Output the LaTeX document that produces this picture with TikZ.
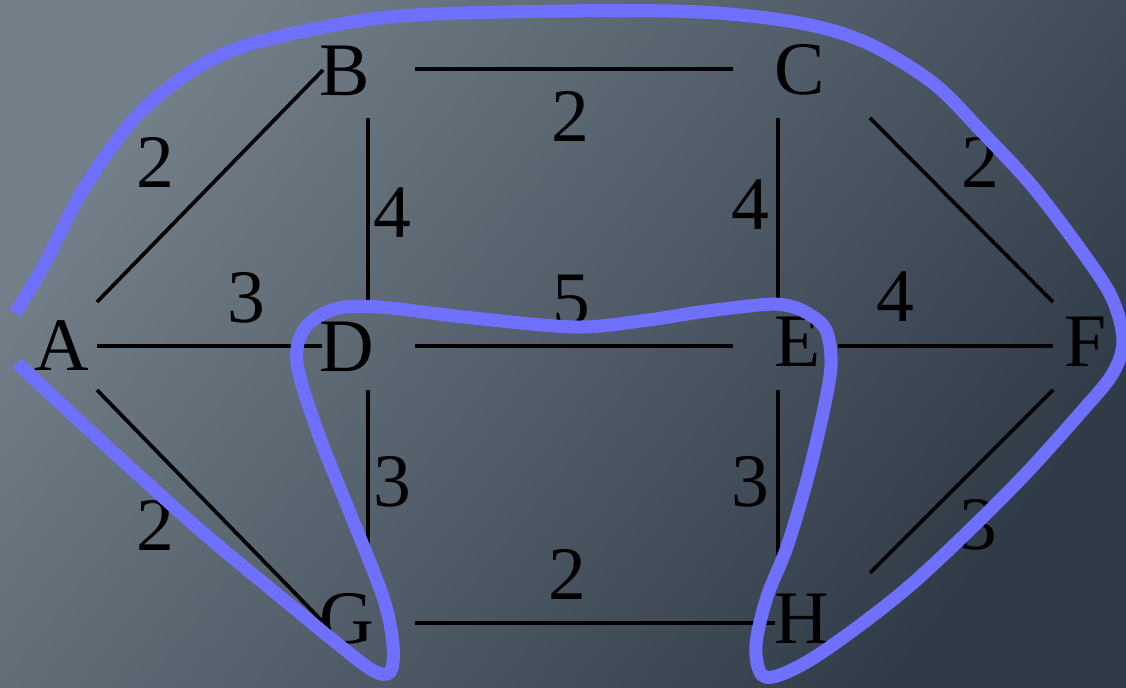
\documentclass[tikz,border=0pt]{standalone}
\usepackage{fontspec}
\setmainfont{Liberation Serif}
\definecolor{SlideLight}{RGB}{114,127,136}
\definecolor{SlideDark}{RGB}{48,59,72}
\definecolor{HullBlue}{RGB}{112,112,255}

\begin{document}
\begin{tikzpicture}[x=0.01cm, y=-0.01cm,
    font=\fontsize{21.5pt}{26pt}\selectfont,
    vertex/.style={inner sep=0pt},
    weight/.style={inner sep=0pt},
    link/.style={line width=1.05pt, black},
    hull/.style={line width=3.7pt, HullBlue}]
  \useasboundingbox (0,0) rectangle (1126,688);
  \shade[top color=SlideLight, bottom color=SlideDark, shading angle=52]
    (0,0) rectangle (1126,688);
  % vertices
  \foreach \n/\x/\y in {A/62/346, B/345/71, C/800/70, D/347/347,
                        E/798/342, F/1086/342, G/347/619, H/802/619}
    \node[vertex] (\n) at (\x,\y) {\n};
  % edges
  \draw[link] ([shift={(35,-44)}]A.center) -- ([shift={(-22,-1)}]B.center);
  \draw[link] ([shift={(35,0)}]A.center) -- ([shift={(-25,-1)}]D.center);
  \draw[link] ([shift={(35,44)}]A.center) -- ([shift={(-24,3)}]G.center);
  \draw[link] ([shift={(70,-2)}]B.center) -- ([shift={(-67,-1)}]C.center);
  \draw[link] ([shift={(23,47)}]B.center) -- ([shift={(21,-45)}]D.center);
  \draw[link] ([shift={(-22,48)}]C.center) -- ([shift={(-20,-44)}]E.center);
  \draw[link] ([shift={(70,48)}]C.center) -- ([shift={(-33,-40)}]F.center);
  \draw[link] ([shift={(68,-1)}]D.center) -- ([shift={(-65,4)}]E.center);
  \draw[link] ([shift={(40,4)}]E.center) -- ([shift={(-33,4)}]F.center);
  \draw[link] ([shift={(21,43)}]D.center) -- ([shift={(21,-62)}]G.center);
  \draw[link] ([shift={(-20,48)}]E.center) -- ([shift={(-24,-64)}]H.center);
  \draw[link] ([shift={(-33,48)}]F.center) -- ([shift={(68,-46)}]H.center);
  \draw[link] ([shift={(68,4)}]G.center) -- ([shift={(-27,4)}]H.center);
  % weights
  \foreach \w/\t/\x/\y in {ab/2/155/162, ad/3/246/298, bd/4/392/213,
                           bc/2/570/116, ce/4/750/205, cf/2/980/162,
                           de/5/571/300, ef/4/895/297, ag/2/155/525,
                           dg/3/392/482, eh/3/750/482, fh/3/978/525,
                           gh/2/567/574}
    \node[weight] (w-\w) at (\x,\y) {\t};
  % hand-drawn cut
  \draw[hull] plot[smooth, tension=0.55] coordinates {
    (15,313) (43,267) (83,190) (133,120) (183,77) (233,50) (300,32)
    (400,16) (560,11) (700,12) (800,23) (867,43) (933,83) (983,133)
    (1033,187) (1083,253) (1112,298) (1123,340) (1113,373) (1083,410)
    (1013,487) (913,583) (830,647) (785,673) (762,675) (756,645)
    (767,597) (787,547) (807,480) (823,413) (831,365) (826,330)
    (807,313) (785,305) (759,305) (700,312) (648,320) (575,327)
    (464,317) (379,307) (335,309) (305,328) (297,363) (317,430)
    (350,513) (383,597) (393,645) (390,672) (372,670) (333,640)
    (300,613) (200,530) (100,440) (17,363)};
\end{tikzpicture}
\end{document}
